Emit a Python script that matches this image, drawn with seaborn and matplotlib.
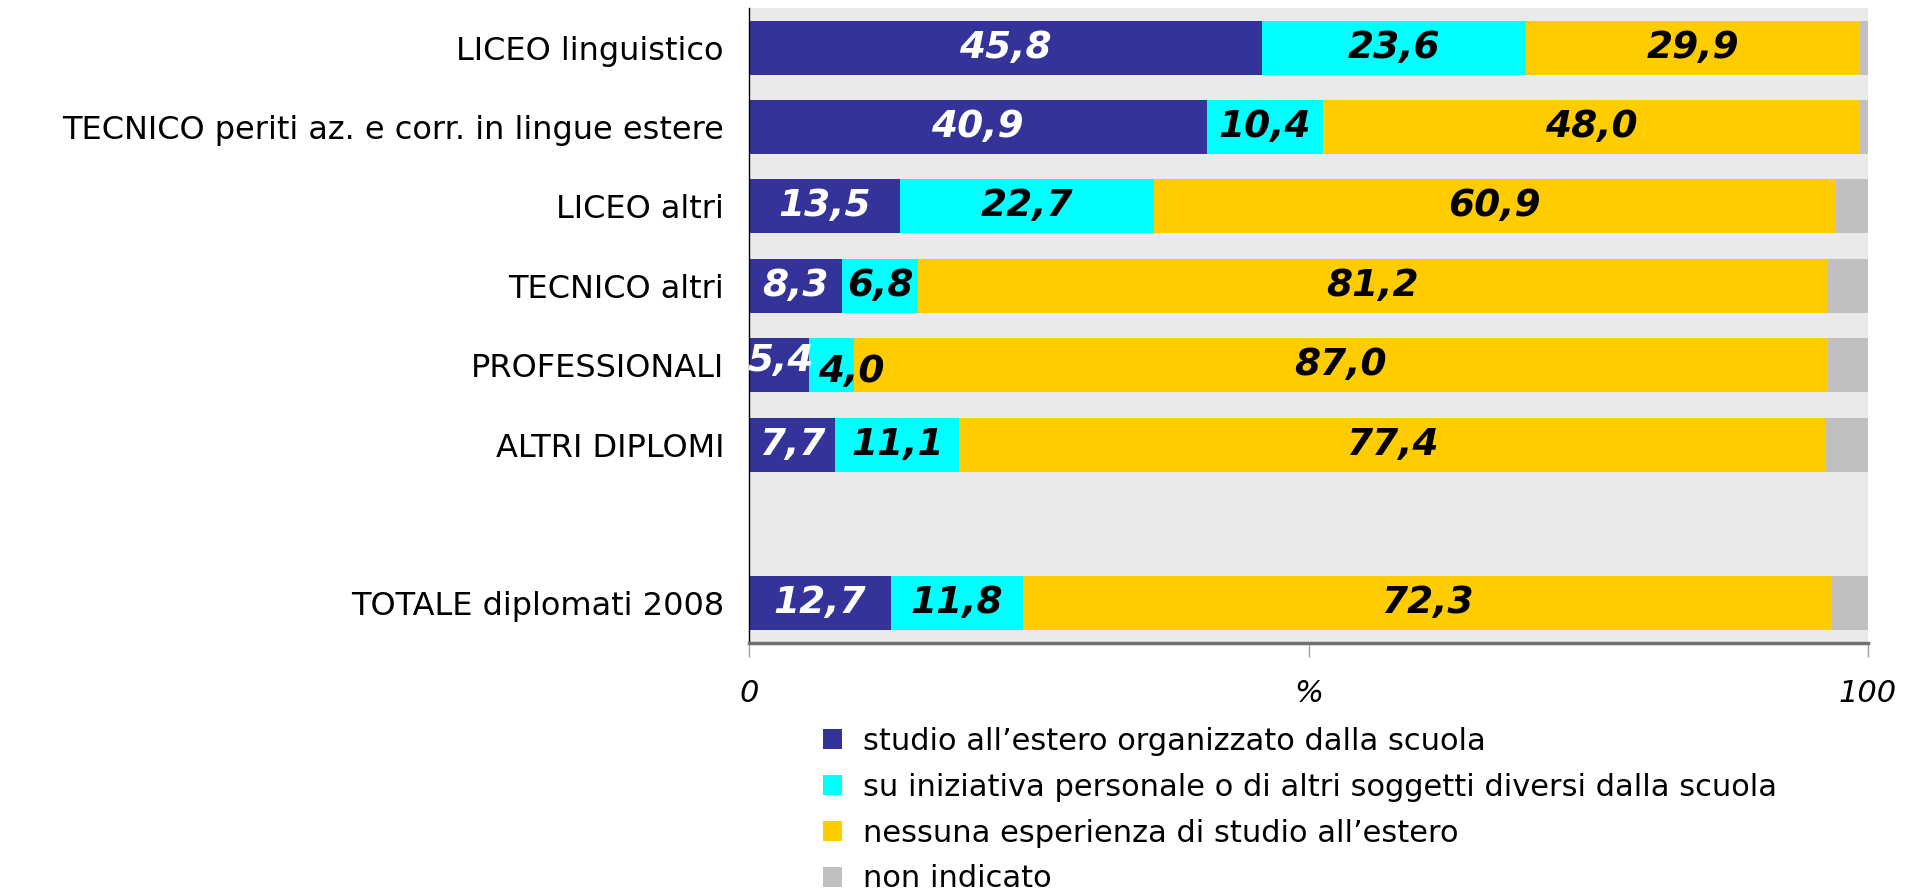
import matplotlib
matplotlib.use("Agg")
import matplotlib.pyplot as plt
from matplotlib.patches import Patch
import numpy as np
import pandas as pd
import seaborn as sns

categories = ["LICEO linguistico",
              "TECNICO periti az. e corr. in lingue estere",
              "LICEO altri",
              "TECNICO altri",
              "PROFESSIONALI",
              "ALTRI DIPLOMI",
              "TOTALE diplomati 2008"]
order = categories[:6] + [" "] + categories[6:]

scuola = [45.8, 40.9, 13.5, 8.3, 5.4, 7.7, 12.7]
personale = [23.6, 10.4, 22.7, 6.8, 4.0, 11.1, 11.8]
nessuna = [29.9, 48.0, 60.9, 81.2, 87.0, 77.4, 72.3]
non_indicato = [0.7, 0.7, 2.9, 3.7, 3.6, 3.8, 3.2]

series_names = ["studio all\u2019estero organizzato dalla scuola",
                "su iniziativa personale o di altri soggetti diversi dalla scuola",
                "nessuna esperienza di studio all\u2019estero",
                "non indicato"]
colors = ["#333399", "#00FFFF", "#FFCC00", "#C0C0C0"]
text_colors = ["white", "black", "black", None]
xticks = [0, 50, 100]
xtick_labels = ["0", "%", "100"]

sns.set_theme(style="white")
plt.rcParams["font.family"] = ["DejaVu Sans"]

fig = plt.figure(figsize=(19.05, 8.96), dpi=100)
ax = fig.add_axes([749 / 1905, 1 - 643 / 896, 1119 / 1905, 635 / 896])
ax.set_facecolor("#EAEAEA")

series = [scuola, personale, nessuna, non_indicato]
cum = np.zeros(len(categories))
cums = []
for s in series:
    cum = cum + np.array(s)
    cums.append(cum.copy())

# draw overlaid cumulative bars, largest first
for i in range(len(series) - 1, -1, -1):
    d = pd.DataFrame({"cat": categories, "val": cums[i]})
    sns.barplot(data=d, x="val", y="cat", order=order, color=colors[i],
                saturation=1, width=0.68, orient="h", ax=ax,
                linewidth=0, edgecolor="none", errorbar=None)

pos = {c: order.index(c) for c in categories}
for i in range(3):
    for j, c in enumerate(categories):
        v = series[i][j]
        left = cums[i][j] - v
        xc = left + v / 2
        dx, dy = 0, 0
        if c == "PROFESSIONALI":
            if i == 0:
                dx, dy = 1, 3
            elif i == 1:
                dx, dy = 14, -5
        ax.annotate(f"{v:.1f}".replace(".", ","), (xc, pos[c]),
                    xytext=(dx, dy), textcoords="offset points",
                    ha="center", va="center", fontsize=27,
                    fontweight="bold", fontstyle="italic",
                    color=text_colors[i])

ax.set_xlim(0, 100)
ax.set_ylim(len(order) - 0.5, -0.5)
ax.set_xticks(xticks)
ax.set_xticklabels(xtick_labels, fontsize=22, fontstyle="italic")
ax.set_xlabel("")
ax.set_ylabel("")
ax.tick_params(axis="x", length=10, width=1, color="#A0A0A0", pad=16,
               direction="out", bottom=True)
ax.tick_params(axis="y", length=0, pad=18, labelsize=23)
for lab in ax.get_yticklabels():
    lab.set_color("black")
for lab in ax.get_xticklabels():
    lab.set_color("black")

for side in ["top", "right"]:
    ax.spines[side].set_visible(False)
ax.spines["left"].set_color("black")
ax.spines["left"].set_linewidth(1)
ax.spines["bottom"].set_color("#707070")
ax.spines["bottom"].set_linewidth(2.5)

handles = [Patch(facecolor=c, edgecolor="none") for c in colors]
fig.legend(handles, series_names, loc="upper left",
           bbox_to_anchor=(823 / 1905, 1 - 727 / 896), frameon=False,
           fontsize=22, handlelength=0.62, handleheight=0.62,
           handletextpad=0.7, labelspacing=0.55, borderpad=0,
           borderaxespad=0, labelcolor="black")

fig.savefig("out.png", dpi=100)
